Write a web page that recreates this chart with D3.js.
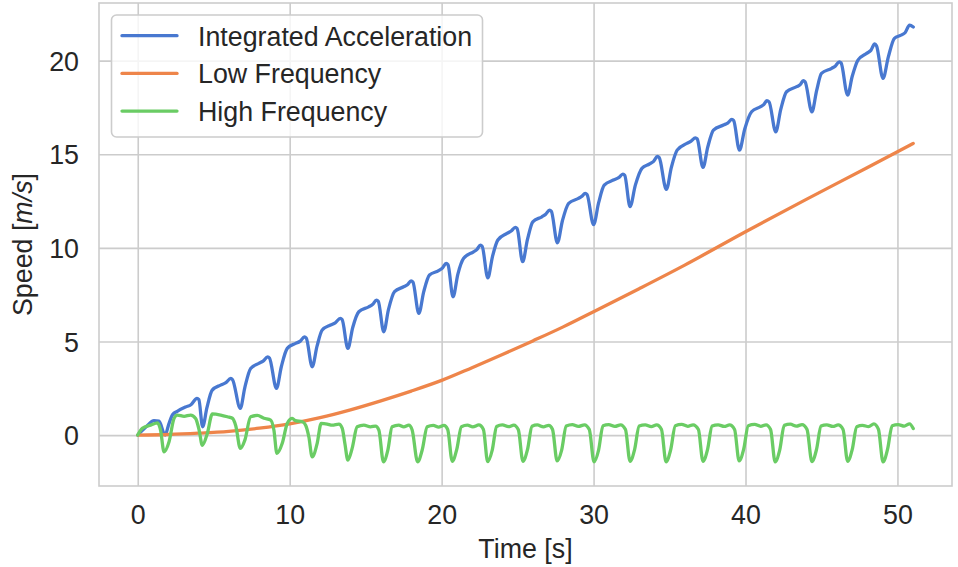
<!DOCTYPE html>
<html>
<head>
<meta charset="utf-8">
<script src="https://d3js.org/d3.v7.min.js"></script>
<style>
  body { margin: 0; background: #fff; }
  text { font-family: "Liberation Sans", Arial, sans-serif; fill: #262626; }
  .grid line { stroke: #cccccc; stroke-width: 1.6; }
  .grid path { display: none; }
  .line { fill: none; stroke-width: 3.3; stroke-linejoin: round; stroke-linecap: round; }
</style>
</head>
<body>
<script>
// values: [time s, speed m/s]
var integratedAccel = [
  [0,0],[0.55,0.44],[1.07,0.77],[1.4,0.74],[1.8,0.0],[2.05,0.6],[2.3,1.1],[2.6,1.27],[3.15,1.5],[3.5,1.62],[3.9,1.96],[4.02,1.9],
  [4.27,0.44],[4.55,1.45],[4.9,2.4],[5.45,2.67],[5.8,2.8],[6.12,3.03],[6.24,2.96],
  [6.75,1.43],[7.05,2.55],[7.43,3.56],[7.97,3.83],[8.25,3.95],[8.55,4.18],[8.67,4.12],
  [9.13,2.49],[9.45,3.65],[9.84,4.63],[10.39,4.9],[10.7,5.02],[10.97,5.25],[11.09,5.19],
  [11.48,3.65],[11.8,4.75],[12.14,5.61],[12.69,5.88],[13.0,6.0],[13.33,6.23],[13.45,6.17],
  [13.83,4.63],[14.15,5.75],[14.55,6.59],[15.2,6.85],[15.45,6.97],[15.71,7.21],[15.83,7.15],
  [16.19,5.52],[16.5,6.7],[16.9,7.66],[17.5,7.92],[17.75,8.03],[17.99,8.24],[18.11,8.18],
  [18.5,6.5],[18.82,7.65],[19.2,8.55],[19.8,8.78],[20.05,8.92],[20.3,9.17],[20.42,9.1],
  [20.75,7.39],[21.07,8.6],[21.45,9.44],[22.1,9.79],[22.33,9.92],[22.55,10.15],[22.67,10.08],
  [23.04,8.4],[23.35,9.55],[23.7,10.42],[24.3,10.77],[24.58,10.9],[24.85,11.09],[24.97,11.03],
  [25.33,9.26],[25.65,10.45],[26.0,11.39],[26.6,11.66],[26.85,11.8],[27.1,12.02],[27.22,11.96],
  [27.62,10.27],[27.95,11.45],[28.36,12.38],[29.0,12.64],[29.22,12.75],[29.45,12.91],[29.57,12.85],
  [30.0,11.24],[30.33,12.4],[30.7,13.35],[31.3,13.62],[31.65,13.75],[31.93,13.94],[32.05,13.88],
  [32.4,12.2],[32.75,13.35],[33.18,14.25],[33.68,14.48],[33.95,14.62],[34.2,14.88],[34.32,14.82],
  [34.79,13.12],[35.12,14.3],[35.5,15.22],[36.14,15.58],[36.42,15.7],[36.7,15.88],[36.82,15.82],
  [37.2,14.3],[37.52,15.4],[37.89,16.29],[38.55,16.56],[38.85,16.68],[39.1,16.86],[39.22,16.8],
  [39.6,15.22],[39.95,16.35],[40.4,17.27],[41.0,17.54],[41.2,17.65],[41.4,17.86],[41.55,17.8],
  [41.99,16.2],[42.32,17.4],[42.7,18.34],[43.37,18.61],[43.6,18.72],[43.8,18.93],[43.92,18.87],
  [44.37,17.27],[44.68,18.4],[45.0,19.32],[45.67,19.59],[45.92,19.72],[46.17,19.94],[46.29,19.88],
  [46.72,18.16],[47.02,19.15],[47.4,20.03],[47.97,20.39],[48.25,20.55],[48.5,20.89],[48.62,20.8],
  [49.05,19.05],[49.4,20.2],[49.8,21.19],[50.2,21.35],[50.5,21.49],[50.8,21.9],[51.04,21.8]
];

var lowFreq = [
  [0,0],[2,0.03],[4,0.1],[6,0.2],[8,0.37],[10,0.6],[12,0.93],[14,1.35],[16,1.83],[18,2.35],[20,2.92],
  [22,3.6],[24,4.3],[26,5.03],[28,5.78],[30,6.59],[33,7.82],[36,9.08],[40,10.86],[44,12.59],[48,14.28],[51.04,15.58]
];

var highFreq = [
  [0,0],[0.3,0.36],[0.85,0.53],[1.3,0.65],[1.5,0.27],
  [1.73,-0.89],[2.06,-0.36],[2.39,0.89],[2.6,1.07],[3.05,1.0],[3.48,1.07],[3.81,0.89],[4.04,0.27],
  [4.25,-0.55],[4.58,0.09],[4.91,1.13],[5.46,1.07],[5.9,0.98],[6.23,0.9],[6.45,0.5],
  [6.75,-0.71],[7.05,-0.27],[7.43,0.98],[7.87,1.05],[8.31,0.9],[8.75,0.8],[8.96,0.27],
  [9.16,-0.98],[9.51,-0.44],[9.84,0.62],[10.17,0.89],[10.38,0.77],[10.83,0.71],[11.05,0.53],[11.26,-0.09],
  [11.48,-1.16],[11.81,-0.44],[12.07,0.62],[12.47,0.59],[12.8,0.53],[13.24,0.59],[13.46,0.36],[13.63,-0.44],
  [13.83,-1.34],[14.11,-0.71],[14.44,0.44],[14.88,0.53],[15.32,0.44],[15.65,0.48],[15.87,0.27],
  [16.17,-1.43],[16.46,-0.8],[16.74,0.44],[17.18,0.53],[17.51,0.44],[17.84,0.53],[18.06,0.27],
  [18.42,-1.43],[18.72,-0.8],[19.05,0.44],[19.45,0.52],[19.8,0.43],[20.15,0.52],[20.4,0.3],
  [20.7,-1.4],[21.0,-0.75],[21.3,0.45],[21.7,0.53],[22.05,0.44],[22.45,0.54],[22.75,0.3],
  [23.03,-1.42],[23.33,-0.8],[23.62,0.46],[24.0,0.55],[24.4,0.45],[24.75,0.53],[25.05,0.28],
  [25.35,-1.4],[25.65,-0.78],[25.95,0.47],[26.3,0.54],[26.7,0.44],[27.05,0.52],[27.3,0.3],
  [27.6,-1.38],[27.9,-0.8],[28.2,0.48],[28.6,0.56],[29.0,0.46],[29.4,0.55],[29.72,0.3],
  [30.03,-1.43],[30.33,-0.8],[30.62,0.5],[31.0,0.56],[31.4,0.46],[31.78,0.55],[32.1,0.3],
  [32.4,-1.4],[32.7,-0.78],[33.0,0.48],[33.4,0.55],[33.8,0.45],[34.15,0.54],[34.47,0.3],
  [34.77,-1.43],[35.07,-0.8],[35.38,0.5],[35.8,0.57],[36.2,0.47],[36.55,0.55],[36.9,0.3],
  [37.2,-1.4],[37.5,-0.78],[37.8,0.48],[38.2,0.55],[38.6,0.46],[38.95,0.54],[39.28,0.3],
  [39.58,-1.38],[39.88,-0.75],[40.18,0.5],[40.6,0.57],[41.0,0.47],[41.35,0.55],[41.65,0.3],
  [41.95,-1.43],[42.25,-0.8],[42.55,0.52],[42.95,0.58],[43.35,0.48],[43.72,0.56],[44.05,0.3],
  [44.37,-1.42],[44.67,-0.78],[44.97,0.48],[45.35,0.55],[45.75,0.46],[46.1,0.54],[46.42,0.3],
  [46.72,-1.4],[47.02,-0.78],[47.32,0.45],[47.7,0.52],[48.1,0.45],[48.45,0.6],[48.75,0.3],
  [49.05,-1.43],[49.35,-0.75],[49.65,0.5],[50.05,0.56],[50.45,0.48],[50.8,0.6],[51.04,0.35]
];

var seriesNames = ["Integrated Acceleration", "Low Frequency", "High Frequency"];
var seriesColors = ["#4878d0", "#ee854a", "#6acc64"];
var xTicks = [0, 10, 20, 30, 40, 50];
var yTicks = [0, 5, 10, 15, 20];

var width = 958, height = 567;
var plotLeft = 99, plotRight = 952, plotTop = 3, plotBottom = 486;
var fontSize = "26.8px";

var svg = d3.select("body").append("svg")
    .attr("width", width)
    .attr("height", height);

var x = d3.scaleLinear().domain([-2.55, 53.59]).range([plotLeft, plotRight]);
var y = d3.scaleLinear().domain([-2.72, 23.08]).range([plotBottom, plotTop]);

// grid + tick labels
svg.append("g")
    .attr("class", "grid")
    .attr("transform", "translate(0," + plotBottom + ")")
    .call(d3.axisBottom(x).tickValues(xTicks).tickSize(-(plotBottom - plotTop)).tickPadding(19))
    .selectAll("text").style("font-size", fontSize).style("fill", "#262626");

svg.append("g")
    .attr("class", "grid")
    .attr("transform", "translate(" + plotLeft + ",0)")
    .call(d3.axisLeft(y).tickValues(yTicks).tickSize(-(plotRight - plotLeft)).tickPadding(20))
    .selectAll("text").style("font-size", fontSize).style("fill", "#262626").attr("dy", "0.36em");

svg.selectAll(".grid .tick line").attr("stroke", "#cccccc");

svg.append("rect")
    .attr("x", plotLeft).attr("y", plotTop)
    .attr("width", plotRight - plotLeft).attr("height", plotBottom - plotTop)
    .attr("fill", "none").attr("stroke", "#cccccc").attr("stroke-width", 1.6);

svg.append("clipPath").attr("id", "plot")
  .append("rect").attr("x", plotLeft).attr("y", plotTop)
    .attr("width", plotRight - plotLeft).attr("height", plotBottom - plotTop);

var line = d3.line()
    .x(function(d) { return x(d[0]); })
    .y(function(d) { return y(d[1]); })
    .curve(d3.curveMonotoneX);

[integratedAccel, lowFreq, highFreq].forEach(function(data, i) {
  svg.append("path")
      .datum(data)
      .attr("class", "line")
      .attr("clip-path", "url(#plot)")
      .attr("stroke", seriesColors[i])
      .attr("d", line);
});

// axis labels
svg.append("text")
    .attr("x", (plotLeft + plotRight) / 2).attr("y", 558)
    .attr("text-anchor", "middle")
    .style("font-size", fontSize)
    .text("Time [s]");

var ylab = svg.append("text")
    .attr("transform", "translate(32," + (plotTop + plotBottom) / 2 + ") rotate(-90)")
    .attr("text-anchor", "middle")
    .style("font-size", fontSize);
ylab.append("tspan").text("Speed [");
ylab.append("tspan").style("font-style", "italic").text("m/s");
ylab.append("tspan").text("]");

// legend
var legend = svg.append("g");
legend.append("rect")
    .attr("x", 111.5).attr("y", 15)
    .attr("width", 371).attr("height", 122)
    .attr("rx", 5)
    .attr("fill", "white").attr("fill-opacity", 0.8)
    .attr("stroke", "#cccccc").attr("stroke-width", 1.6);

var rows = legend.selectAll("g.row")
    .data(seriesNames)
    .enter().append("g")
    .attr("transform", function(d, i) { return "translate(0," + (35.7 + i * 37.7) + ")"; });

rows.append("line")
    .attr("x1", 122).attr("x2", 177)
    .attr("stroke", function(d, i) { return seriesColors[i]; })
    .attr("stroke-width", 3.3)
    .attr("stroke-linecap", "round");

rows.append("text")
    .attr("x", 198).attr("y", 10)
    .style("font-size", fontSize)
    .text(function(d) { return d; });
</script>
</body>
</html>
